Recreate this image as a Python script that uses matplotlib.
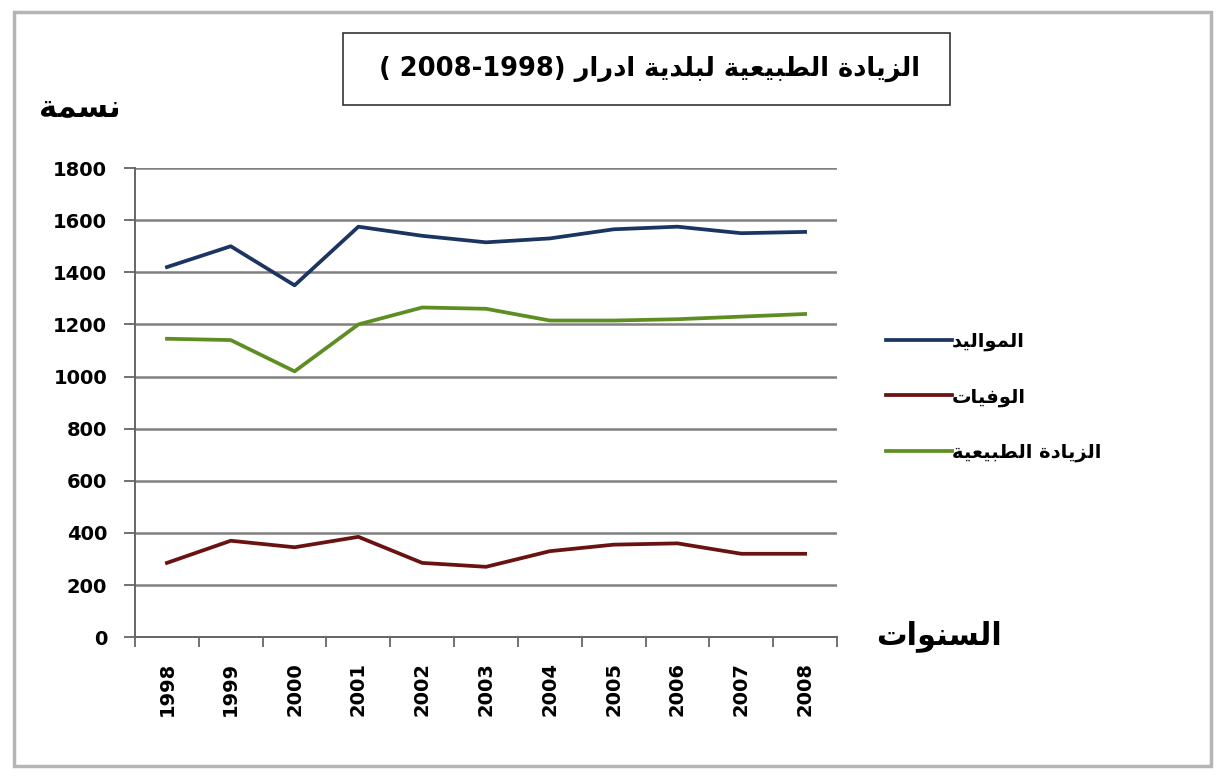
import matplotlib
matplotlib.use('Agg')
import matplotlib.pyplot as plt
from matplotlib.patches import Rectangle
import numpy as np

years = ['1998', '1999', '2000', '2001', '2002', '2003', '2004', '2005', '2006', '2007', '2008']
births = [1420, 1500, 1350, 1575, 1540, 1515, 1530, 1565, 1575, 1550, 1555]
deaths = [285, 370, 345, 385, 285, 270, 330, 355, 360, 320, 320]
natural = [1145, 1140, 1020, 1200, 1265, 1260, 1215, 1215, 1220, 1230, 1240]

title_ar = 'الزيادة الطبيعية لبلدية ادرار'
title_num = '( 2008-1998) '
ylabel_ar = 'نسمة'
xlabel_ar = 'السنوات'
legend_ar = ['المواليد', 'الوفيات', 'الزيادة الطبيعية']

# minimal arabic shaping: (isolated, final, initial, medial)
FORMS = {
    'ا': (0xFE8D, 0xFE8E, None, None),
    'ب': (0xFE8F, 0xFE90, 0xFE91, 0xFE92),
    'ة': (0xFE93, 0xFE94, None, None),
    'ت': (0xFE95, 0xFE96, 0xFE97, 0xFE98),
    'د': (0xFEA9, 0xFEAA, None, None),
    'ر': (0xFEAD, 0xFEAE, None, None),
    'ز': (0xFEAF, 0xFEB0, None, None),
    'س': (0xFEB1, 0xFEB2, 0xFEB3, 0xFEB4),
    'ط': (0xFEC1, 0xFEC2, 0xFEC3, 0xFEC4),
    'ع': (0xFEC9, 0xFECA, 0xFECB, 0xFECC),
    'ف': (0xFED1, 0xFED2, 0xFED3, 0xFED4),
    'ل': (0xFEDD, 0xFEDE, 0xFEDF, 0xFEE0),
    'م': (0xFEE1, 0xFEE2, 0xFEE3, 0xFEE4),
    'ن': (0xFEE5, 0xFEE6, 0xFEE7, 0xFEE8),
    'و': (0xFEED, 0xFEEE, None, None),
    'ي': (0xFEF1, 0xFEF2, 0xFEF3, 0xFEF4),
}


def shape(s):
    out = []
    i = 0
    n = len(s)
    while i < n:
        c = s[i]
        if c not in FORMS:
            out.append(c)
            i += 1
            continue
        prev = s[i - 1] if i > 0 else ''
        joins_prev = prev in FORMS and FORMS[prev][2] is not None
        if c == 'ل' and i + 1 < n and s[i + 1] == 'ا':
            out.append(chr(0xFEFC if joins_prev else 0xFEFB))
            i += 2
            continue
        nxt = s[i + 1] if i + 1 < n else ''
        joins_next = FORMS[c][2] is not None and nxt in FORMS
        f = FORMS[c]
        if joins_prev and joins_next:
            code = f[3]
        elif joins_prev:
            code = f[1]
        elif joins_next:
            code = f[2]
        else:
            code = f[0]
        out.append(chr(code))
        i += 1
    return ''.join(out)[::-1]


plt.rcParams['font.family'] = ['DejaVu Sans']

fig = plt.figure(figsize=(12.23, 7.78), dpi=100)
ax = fig.add_axes([0.1104, 0.181, 0.5740, 0.603])

x = np.arange(len(years))
ax.plot(x, births, color='#1B3563', lw=2.7, label=shape(legend_ar[0]))
ax.plot(x, deaths, color='#6A1212', lw=2.7, label=shape(legend_ar[1]))
ax.plot(x, natural, color='#5E8E22', lw=2.7, label=shape(legend_ar[2]))

ax.set_ylim(0, 1800)
ax.set_xlim(-0.5, len(years) - 0.5)
ax.set_yticks(np.arange(0, 1801, 200))
ax.yaxis.grid(True, color='#808080', lw=1.8)
ax.set_axisbelow(True)
for s in ['top', 'right']:
    ax.spines[s].set_visible(False)
for s in ['left', 'bottom']:
    ax.spines[s].set_color('#666666')
    ax.spines[s].set_linewidth(1.4)

ax.set_xticks(x)
ax.set_xticklabels(years, rotation=90, fontsize=14, fontweight='bold')
ax.tick_params(axis='x', length=0, pad=18)
ax.set_xticks(np.arange(-0.5, len(years)), minor=True)
ax.tick_params(axis='x', which='minor', length=7, color='#666666', width=1.3)
ax.tick_params(axis='y', length=8, color='#666666', width=1.3, pad=12)
for lab in ax.get_yticklabels():
    lab.set_fontsize(14)
    lab.set_fontweight('bold')

leg = ax.legend(loc='center left', bbox_to_anchor=(1.045, 0.512), frameon=False,
                handlelength=3.4, handletextpad=0.0, labelspacing=1.85,
                prop={'size': 14, 'weight': 'bold'})

fig.text(0.065, 0.862, shape(ylabel_ar), fontsize=22, fontweight='bold',
         ha='center', va='center')
fig.text(0.768, 0.183, shape(xlabel_ar), fontsize=22, fontweight='bold',
         ha='center', va='center')

# title box
fig.patches.append(Rectangle((343 / 1223, 1 - 105 / 778), 607 / 1223, 72 / 778,
                             transform=fig.transFigure, fill=False,
                             edgecolor='#333333', lw=1.2))
fig.text(0.531, 0.912, title_num + shape(title_ar), fontsize=18.5,
         ha='center', va='center', fontweight='bold')

# outer frame
fig.patches.append(Rectangle((14 / 1223, 12 / 778), 1197 / 1223, 754 / 778,
                             transform=fig.transFigure, fill=False,
                             edgecolor='#b5b5b5', lw=2.5))

fig.savefig('out.png', dpi=100)
